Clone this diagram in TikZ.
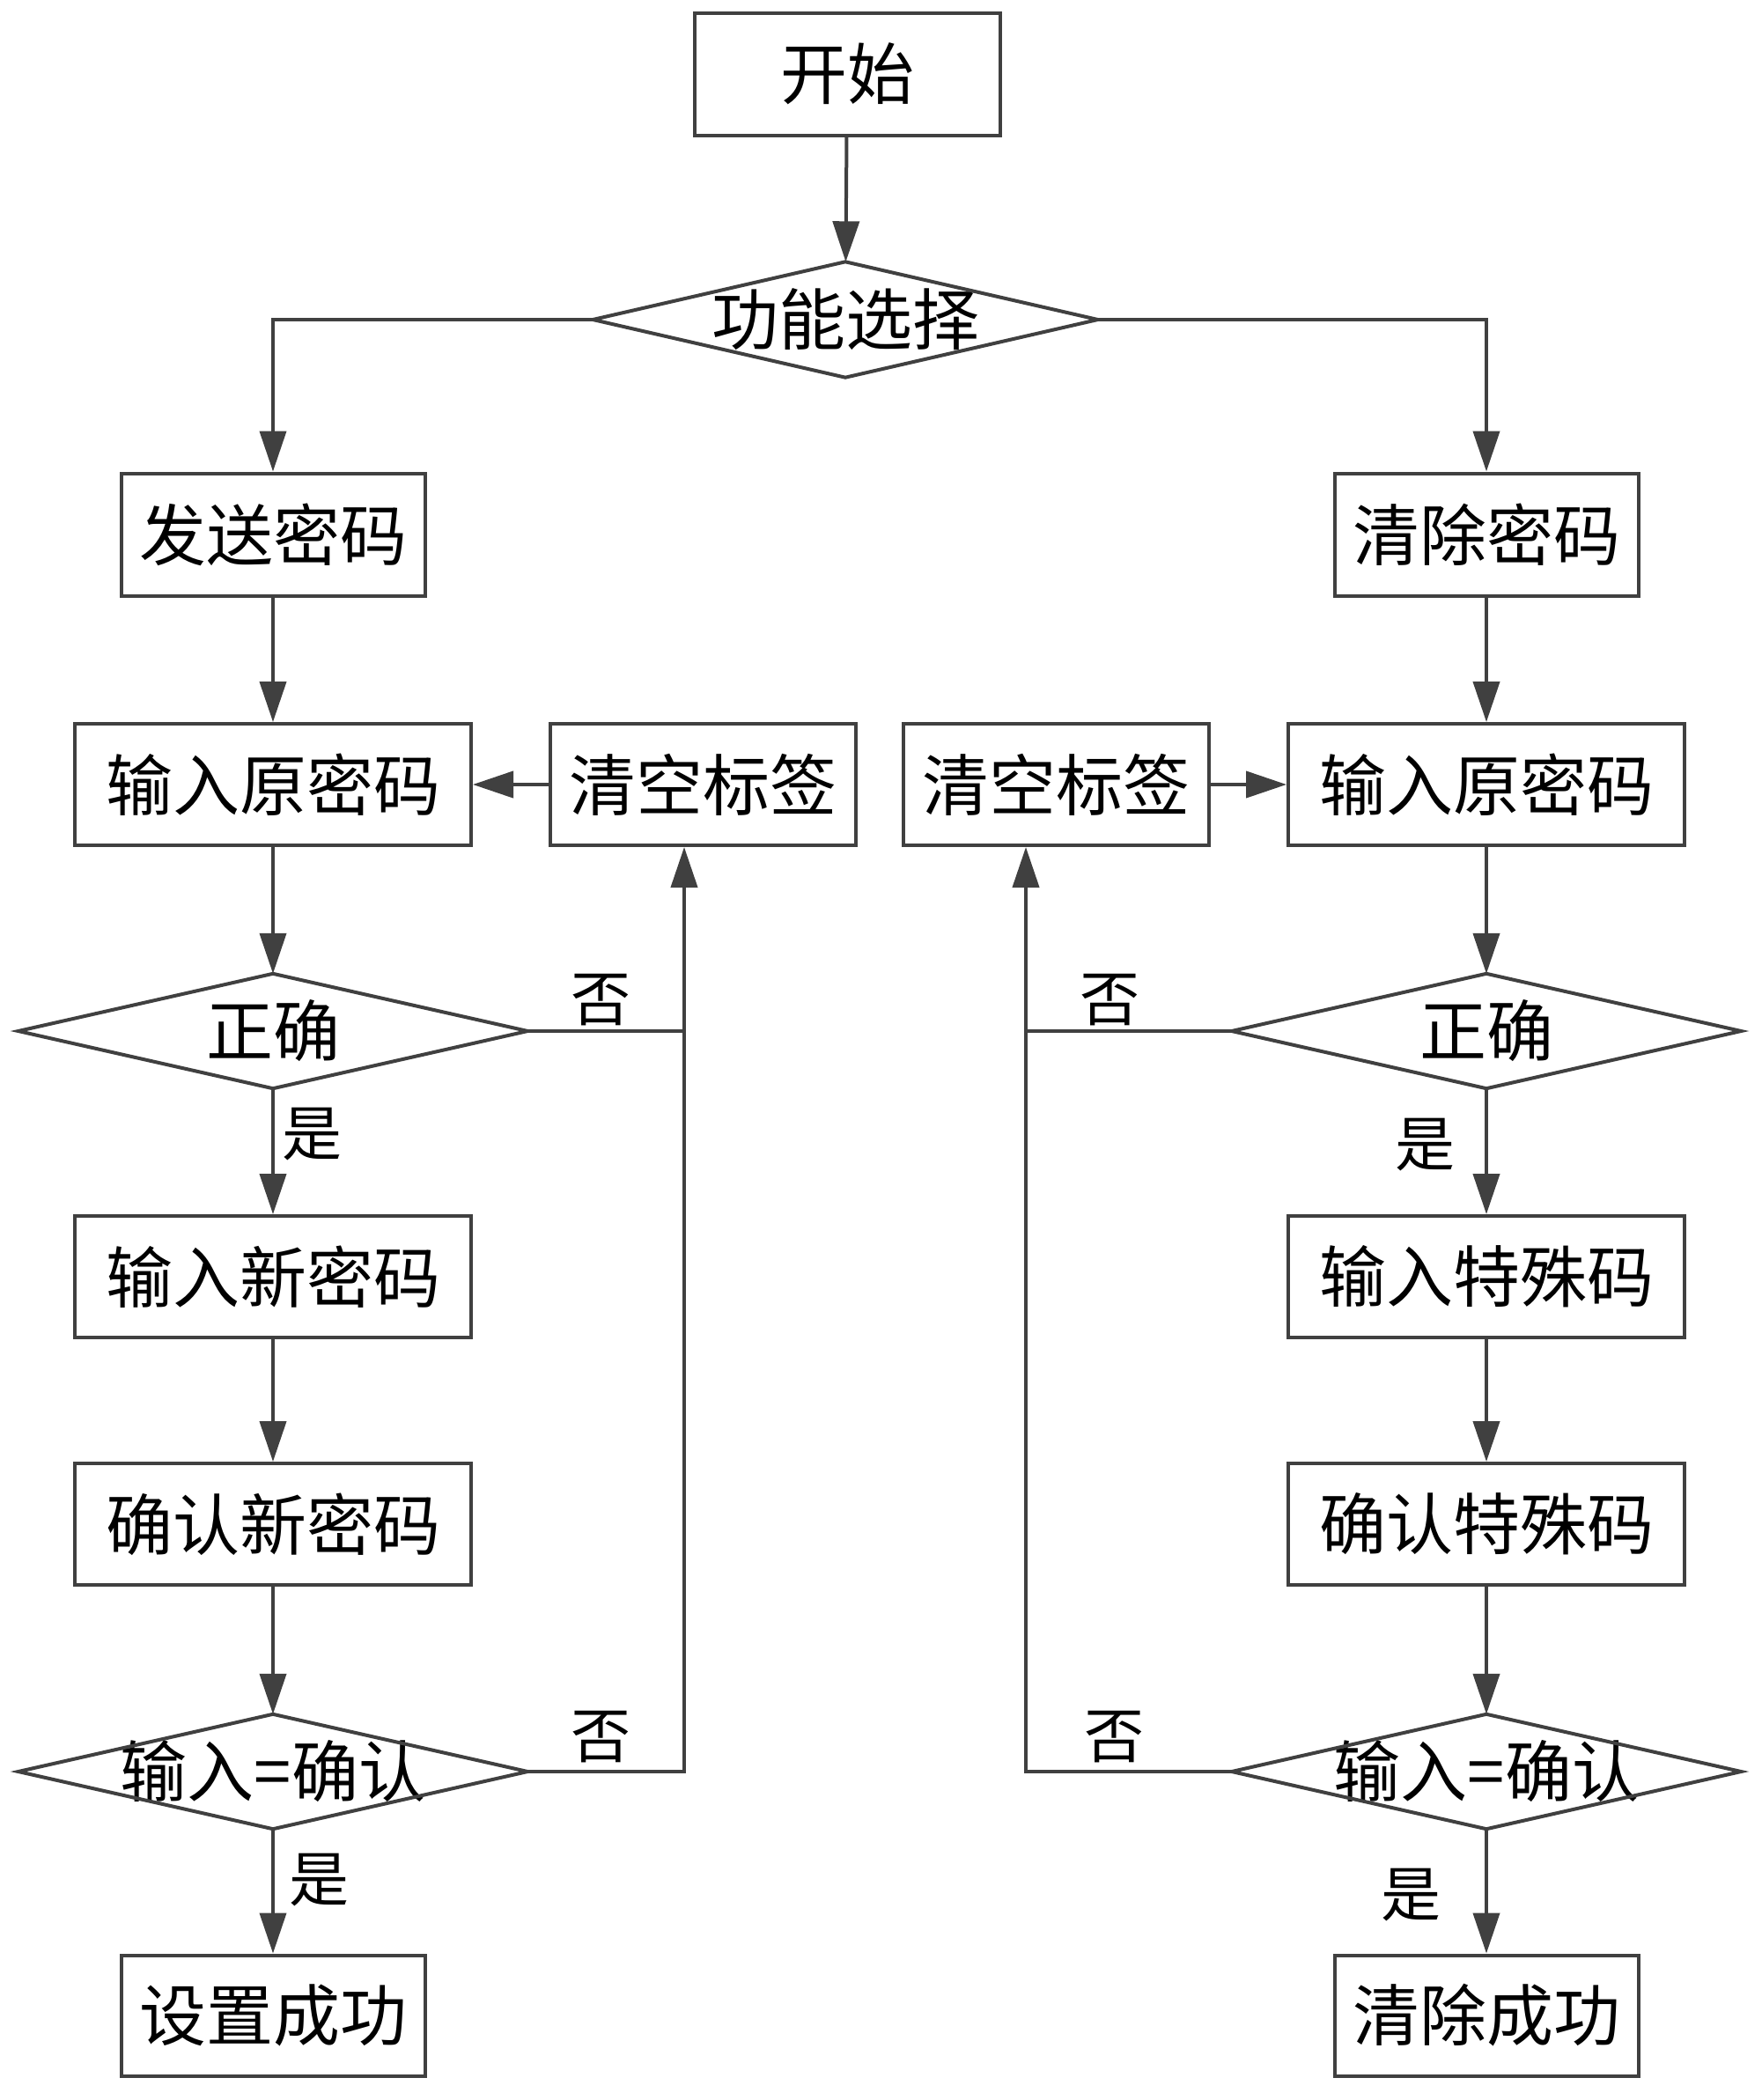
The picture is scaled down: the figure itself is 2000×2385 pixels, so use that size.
\documentclass[tikz,border=0pt]{standalone}
\usepackage{fontspec}
\newfontfamily\cjk{Noto Sans CJK SC}
\usetikzlibrary{arrows.meta,calc}
\definecolor{ln}{HTML}{404040}
\tikzset{
  x=1pt,y=-1pt,
  every node/.style={font=\cjk\fontsize{76pt}{82pt}\selectfont, text=black},
  box/.style={draw=ln, line width=4pt, rectangle, inner sep=0pt, minimum height=138pt},
  dia/.style={rectangle, inner sep=0pt, minimum width=578pt, minimum height=130pt},
  lab/.style={font=\cjk\fontsize{68pt}{72pt}\selectfont, inner sep=0pt},
  conn/.style={draw=ln, line width=4pt, -{Triangle[length=46pt,width=30pt]}},
  plain/.style={draw=ln, line width=4pt}
}
\newcommand{\diashape}[1]{\draw[ln, line width=4pt, line join=miter] (#1.west)--(#1.north)--(#1.east)--(#1.south)--cycle;}
\begin{document}
\begin{tikzpicture}
\useasboundingbox (0,0) rectangle (2000,2385);
% nodes
\node[box, minimum width=347pt, minimum height=139pt] (start) at (962,84) {开始};
\node[dia, minimum width=573pt, minimum height=131pt] (func) at (960,363) {功能选择};
\node[box, minimum width=345pt, minimum height=139pt] (send) at (310,607) {发送密码};
\node[box, minimum width=345pt, minimum height=139pt] (clr) at (1688,607) {清除密码};
\node[box, minimum width=450pt] (inOldL) at (310,891) {输入原密码};
\node[box, minimum width=347pt] (clrL) at (798,891) {清空标签};
\node[box, minimum width=347pt] (clrR) at (1199,891) {清空标签};
\node[box, minimum width=450pt] (inOldR) at (1688,891) {输入原密码};
\node[dia] (okL) at (310,1171) {正确};
\node[dia] (okR) at (1688,1171) {正确};
\node[box, minimum width=450pt] (inNew) at (310,1450) {输入新密码};
\node[box, minimum width=450pt] (inSpec) at (1688,1450) {输入特殊码};
\node[box, minimum width=450pt] (cfNew) at (310,1731) {确认新密码};
\node[box, minimum width=450pt] (cfSpec) at (1688,1731) {确认特殊码};
\node[dia] (eqL) at (310,2012) {输入=确认};
\node[dia] (eqR) at (1688,2012) {输入=确认};
\node[box, minimum width=345pt, minimum height=137pt] (setOK) at (310,2289) {设置成功};
\node[box, minimum width=345pt, minimum height=137pt] (clrOK) at (1688,2289) {清除成功};
% diamonds
\diashape{func}
\diashape{okL}
\diashape{okR}
\diashape{eqL}
\diashape{eqR}
% junctions
\coordinate (jL) at (777,1171);
\coordinate (jR) at (1165,1171);
% connectors
\draw[conn] (start) -- (func);
\draw[conn] (func.west) -| (send.north);
\draw[conn] (func.east) -| (clr.north);
\draw[conn] (send) -- (inOldL);
\draw[conn] (clr) -- (inOldR);
\draw[conn] (clrL) -- (inOldL);
\draw[conn] (clrR) -- (inOldR);
\draw[conn] (inOldL) -- (okL.north);
\draw[conn] (inOldR) -- (okR.north);
\draw[conn] (okL.south) -- (inNew);
\draw[conn] (okR.south) -- (inSpec);
\draw[conn] (inNew) -- (cfNew);
\draw[conn] (inSpec) -- (cfSpec);
\draw[conn] (cfNew) -- (eqL.north);
\draw[conn] (cfSpec) -- (eqR.north);
\draw[conn] (eqL.south) -- (setOK);
\draw[conn] (eqR.south) -- (clrOK);
\draw[conn] (okL.east) -- (jL) -- (jL |- clrL.south);
\draw[conn] (okR.west) -- (jR) -- (jR |- clrR.south);
\draw[plain] (eqL.east) -| (jL);
\draw[plain] (eqR.west) -| (jR);
% labels
\node[lab] (noL1) at (682,1136) {否};
\node[lab] (noR1) at (1260,1136) {否};
\node[lab] (noL2) at (682,1973) {否};
\node[lab] (noR2) at (1265,1973) {否};
\node[lab] (yesL1) at (354,1288) {是};
\node[lab] (yesR1) at (1618,1300) {是};
\node[lab] (yesL2) at (362,2135) {是};
\node[lab] (yesR2) at (1602,2152) {是};
\end{tikzpicture}
\end{document}
